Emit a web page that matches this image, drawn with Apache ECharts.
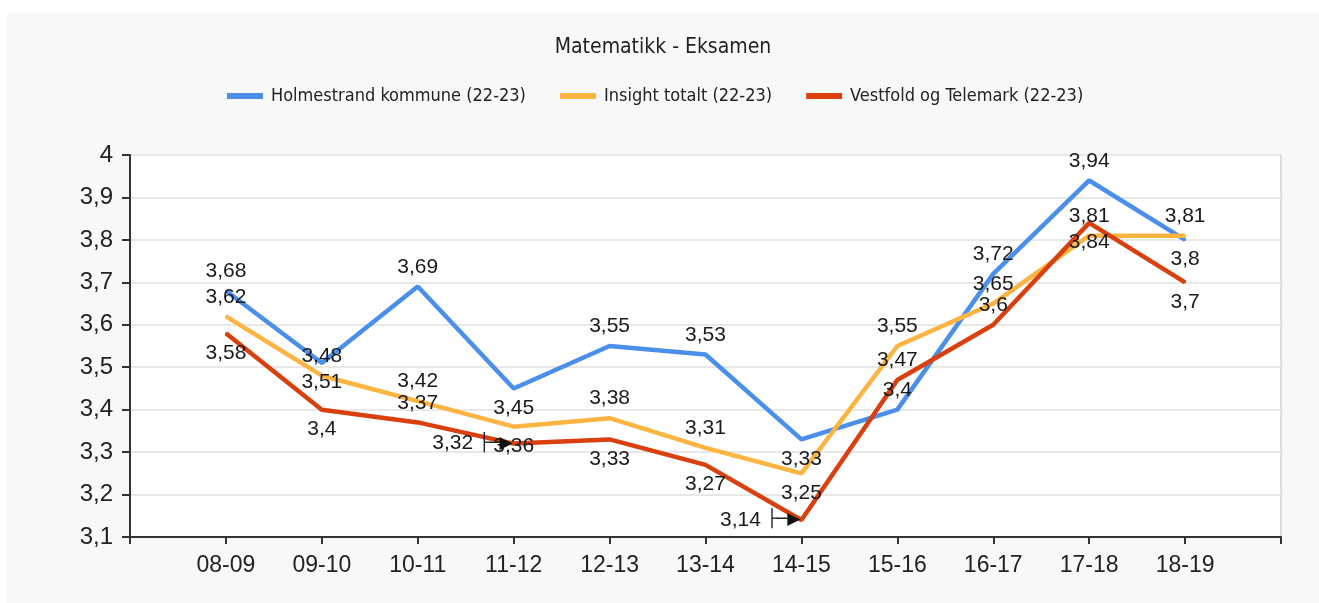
<!DOCTYPE html>
<html>
<head>
<meta charset="utf-8">
<script src="https://cdn.jsdelivr.net/npm/echarts@6/dist/echarts.min.js"></script>
<style>
  html, body { margin: 0; padding: 0; background: #fff; }
  #chart { position: absolute; left: 7px; top: 13px; width: 1312px; height: 590px; background: #f8f8f8; }
</style>
</head>
<body>
<div id="chart"></div>
<script>
const categories = ['08-09', '09-10', '10-11', '11-12', '12-13', '13-14', '14-15', '15-16', '16-17', '17-18', '18-19'];
const holmestrand = [3.68, 3.51, 3.69, 3.45, 3.55, 3.53, 3.33, 3.40, 3.72, 3.94, 3.80];
const insight = [3.62, 3.48, 3.42, 3.36, 3.38, 3.31, 3.25, 3.55, 3.65, 3.81, 3.81];
const vestfold = [3.58, 3.40, 3.37, 3.32, 3.33, 3.27, 3.14, 3.47, 3.60, 3.84, 3.70];
const yTicks = { min: 3.1, max: 4, step: 0.1 };

// where each data label sits (the original chart places them by hand)
const bluePos = ['top', 'bottom', 'top', 'bottom', 'top', 'top', 'bottom', 'top', 'top', 'top', 'bottom'];
const orangePos = ['top', 'top', 'top', 'bottom', 'top', 'top', 'bottom', 'top', 'top', 'top', 'top'];
const redPos = ['bottom', 'bottom', 'top', 'left', 'bottom', 'bottom', 'left', 'top', 'top', 'bottom', 'bottom'];

const fmt = v => String(+(+v).toFixed(2)).replace('.', ',');
const labelFont = 'Liberation Sans, Arial, sans-serif';

function buildData(values, positions) {
  // one empty slot at each end so the first/last points sit one step inside the axis
  const out = [null];
  values.forEach((v, i) => {
    const pos = positions[i];
    const item = { value: v, label: { position: pos } };
    if (pos === 'left') {
      item.label.distance = 0;
      item.label.formatter = p => '{v|' + fmt(p.value) + '}{a|├─▶}';
    }
    out.push(item);
  });
  out.push(null);
  return out;
}

function makeSeries(name, values, positions, color) {
  return {
    name: name,
    type: 'line',
    data: buildData(values, positions),
    symbol: 'circle',
    symbolSize: 2,
    showSymbol: true,
    lineStyle: { width: 4.5, color: color },
    itemStyle: { color: color },
    label: {
      show: true,
      distance: 8,
      color: '#1a1a1a',
      fontFamily: labelFont,
      fontSize: 21,
      formatter: p => fmt(p.value),
      rich: {
        v: { color: '#1a1a1a', fontFamily: labelFont, fontSize: 21, padding: [0, 6, 0, 0] },
        a: { color: '#111', fontFamily: 'DejaVu Sans', fontSize: 17 }
      }
    },
    labelLayout: { hideOverlap: false },
    emphasis: { disabled: true },
    animation: false
  };
}

const chart = echarts.init(document.getElementById('chart'));
chart.setOption({
  backgroundColor: '#f8f8f8',
  animation: false,
  title: {
    text: 'Matematikk - Eksamen',
    left: 'center',
    top: 19,
    textStyle: { fontFamily: 'DejaVu Sans Condensed', fontWeight: 'normal', fontSize: 21, color: '#222' }
  },
  legend: {
    top: 69,
    left: 215,
    icon: 'rect',
    itemWidth: 36,
    itemHeight: 6,
    itemGap: 34,
    textStyle: { fontFamily: 'DejaVu Sans Condensed', fontSize: 18, color: '#222', padding: [0, 0, 0, 3] },
    data: ['Holmestrand kommune (22-23)', 'Insight totalt (22-23)', 'Vestfold og Telemark (22-23)']
  },
  grid: {
    left: 123,
    top: 142,
    right: 38,
    bottom: 66,
    show: true,
    backgroundColor: '#fff',
    borderColor: '#dcdcdc',
    borderWidth: 2
  },
  xAxis: {
    type: 'category',
    boundaryGap: false,
    data: [''].concat(categories, ['']),
    axisLine: { lineStyle: { color: '#333', width: 2 } },
    axisTick: { show: true, length: 7, lineStyle: { color: '#333', width: 2 } },
    axisLabel: { color: '#222', fontFamily: labelFont, fontSize: 23, margin: 17 },
    splitLine: { show: false }
  },
  yAxis: {
    type: 'value',
    min: yTicks.min,
    max: yTicks.max,
    interval: yTicks.step,
    axisLine: { show: true, lineStyle: { color: '#333', width: 2 } },
    axisTick: { show: true, length: 8, lineStyle: { color: '#333', width: 2 } },
    axisLabel: { color: '#222', fontFamily: labelFont, fontSize: 24, margin: 17, formatter: v => fmt(v) },
    splitLine: { lineStyle: { color: '#e8e8e8', width: 2 } }
  },
  series: [
    makeSeries('Holmestrand kommune (22-23)', holmestrand, bluePos, '#4a8fea'),
    makeSeries('Insight totalt (22-23)', insight, orangePos, '#fdb440'),
    makeSeries('Vestfold og Telemark (22-23)', vestfold, redPos, '#d9400e')
  ]
});
</script>
</body>
</html>
